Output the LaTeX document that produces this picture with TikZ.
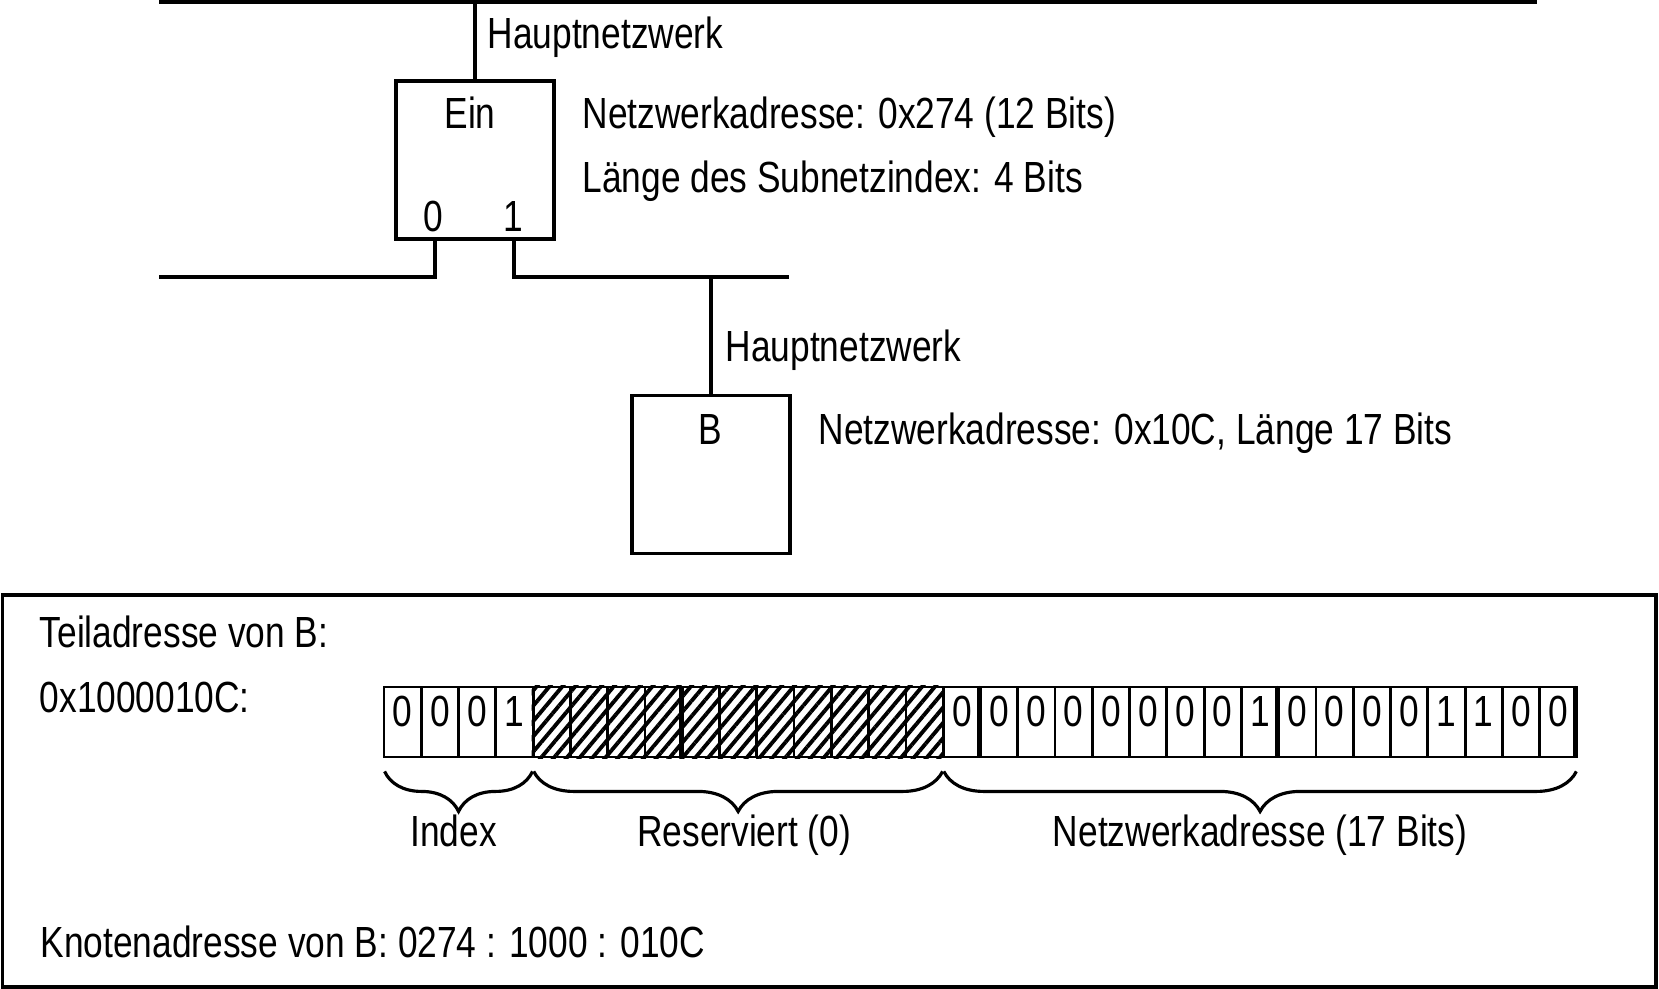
\documentclass[tikz,border=0pt]{standalone}
\usepackage{fontspec}
\setmainfont{Liberation Sans}[FakeStretch=0.81]
\usetikzlibrary{patterns.meta,decorations.pathreplacing}
\tikzset{
  net/.style={line width=1pt},
  station/.style={draw, line width=1pt, minimum width=1.58cm, minimum height=1.58cm, inner sep=0pt},
  txt/.style={anchor=base west, inner sep=0pt},
  ctxt/.style={anchor=base, inner sep=0pt},
  bitcell/.style={draw, line width=0.8pt, minimum width=0.3728cm, minimum height=0.7cm, inner sep=0pt},
  hatched/.style={pattern={Lines[angle=50,distance=2.8pt,line width=1.1pt]}},
  bitbrace/.style={decorate, decoration={brace, mirror, amplitude=0.4cm}, line width=0.9pt},
}
\begin{document}
\begin{tikzpicture}[x=0.01cm, y=-0.01cm, font=\fontsize{12.4}{15}\selectfont]
\useasboundingbox (0,0) rectangle (1659,989);
\coordinate (topw) at (159,2);
\coordinate (tope) at (1537,2);
\coordinate (port0) at (435,239);
\coordinate (port1) at (514,239);
\coordinate (leftw) at (159,277);
\coordinate (righte) at (789,277);
\node[station] (ein) at (475,160) {};
\node[station] (b) at (711,474.5) {};
\draw[net] (topw) -- (tope);
\draw[net] (ein.north) -- (ein.north |- topw);
\draw[net] (port0) |- (leftw);
\draw[net] (port1) |- (righte);
\draw[net] (b.north) -- (b.north |- righte);
\node[txt] (haupt1) at (487,49) {Hauptnetzwerk};
\node[ctxt] (einname) at (470,129) {Ein};
\node[txt] (einaddr) at (582,129) {Netzwerkadresse: 0x274 (12 Bits)};
\node[txt] (einlen) at (582,193) {Länge des Subnetzindex: 4 Bits};
\node[ctxt] (port0num) at (433,232) {0};
\node[ctxt] (port1num) at (513,232) {1};
\node[txt] (haupt2) at (725,362) {Hauptnetzwerk};
\node[ctxt] (bname) at (710,445) {B};
\node[txt] (baddr) at (818,445) {Netzwerkadresse: 0x10C, Länge 17 Bits};
\draw[line width=0.9pt] (2.7,595) rectangle (1656,987);
\node[txt] (teil) at (39,648) {Teiladresse von B:};
\node[txt] (teilhex) at (39,713) {0x1000010C:};
\node[txt] (knoten) at (40,958) {Knotenadresse von B: 0274 : 1000 : 010C};
\foreach \i in {0,...,31}
  \node[bitcell] (bit\i) at ({402.64+37.28*\i},722) {};
\foreach \i in {4,...,14}
  \fill[hatched] (bit\i.south west) rectangle (bit\i.north east);
\foreach \i in {7,15,23,31}
  \draw[line width=0.8pt] ([xshift=-0.035cm]bit\i.north east) -- ([xshift=-0.035cm]bit\i.south east);
\foreach \d [count=\i from 0] in {0,0,0,1}
  \node[ctxt] (num\i) at ([yshift=-0.05cm]bit\i.center) {\d};
\foreach \d [count=\i from 15] in {0,0,0,0,0,0,0,0,1,0,0,0,0,1,1,0,0}
  \node[ctxt] (num\i) at ([yshift=-0.05cm]bit\i.center) {\d};
\draw[bitbrace] ([xshift=0.02cm,yshift=-0.13cm]bit0.south west) -- ([xshift=-0.02cm,yshift=-0.13cm]bit3.south east)
  node[midway, ctxt, xshift=-0.05cm, yshift=-0.75cm] (idx) {Index};
\draw[bitbrace] ([xshift=0.02cm,yshift=-0.13cm]bit4.south west) -- ([xshift=-0.02cm,yshift=-0.13cm]bit14.south east)
  node[midway, ctxt, xshift=0.06cm, yshift=-0.75cm] (res) {Reserviert (0)};
\draw[bitbrace] ([xshift=0.02cm,yshift=-0.13cm]bit15.south west) -- ([xshift=-0.02cm,yshift=-0.13cm]bit31.south east)
  node[midway, ctxt, yshift=-0.75cm] (netaddr) {Netzwerkadresse (17 Bits)};
\end{tikzpicture}
\end{document}
